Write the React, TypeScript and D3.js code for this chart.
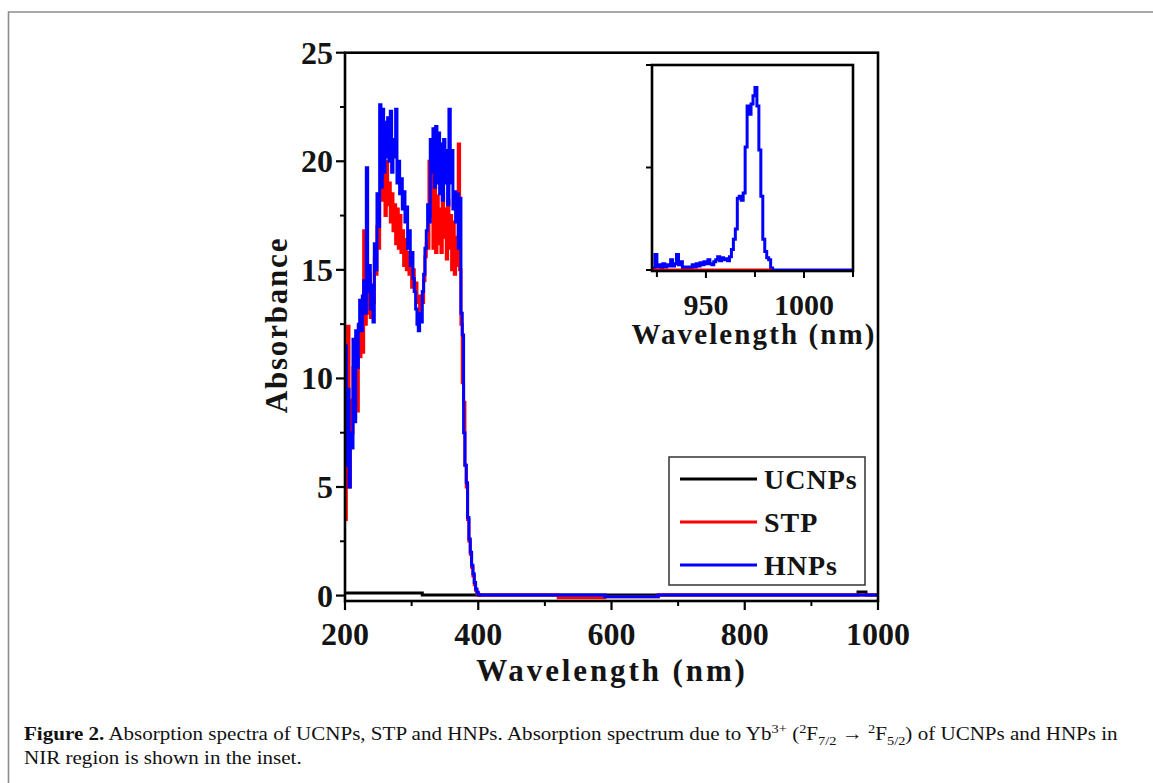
import React, { useLayoutEffect, useRef, useState } from "react";
import * as d3 from "d3";

// ---------- DATA ----------
const uvWavelengths = d3.range(200, 401, 2); // 200..400 nm, 2 nm step

const hnpsUV = [
  11.5, 6.0, 9.5, 5.0, 7.5, 6.8, 11.8, 8.0, 12.2, 10.5,
  12.5, 13.6, 12.2, 13.8, 14.5, 13.0, 19.7, 14.0, 15.2, 13.2,
  14.3, 12.6, 16.2, 15.0, 18.5, 17.0, 22.6, 18.8, 22.4, 19.5,
  21.8, 20.2, 22.0, 20.0, 22.3, 19.5, 21.0, 20.2, 22.4, 19.0,
  20.0, 18.5, 19.2, 17.8, 18.6, 17.2, 17.9, 16.0, 16.8, 15.2,
  15.8, 14.6, 14.0, 13.2, 12.5, 12.2, 13.0, 12.6, 14.0, 14.8,
  16.0, 16.8, 18.0, 17.2, 21.0, 19.5, 21.5, 18.8, 21.6, 19.0,
  21.3, 18.5, 20.8, 18.2, 21.0, 19.0, 20.5, 18.0, 22.4, 19.0,
  20.5, 17.8, 18.6, 17.2, 18.5, 16.0, 18.3, 13.0, 12.0, 7.5,
  6.0, 5.2, 3.6, 2.6, 2.0, 1.4, 1.0, 0.6, 0.3, 0.15,
  0.05,
];

const stpUV = [
  3.5, 6.3, 12.4, 5.0, 9.0, 7.5, 10.5, 8.2, 11.0, 8.5,
  12.4, 11.0, 12.2, 11.2, 16.8, 12.5, 14.5, 13.0, 14.8, 12.8,
  14.2, 13.5, 15.5, 14.8, 17.0, 16.0, 18.3, 19.8, 18.2, 19.5,
  17.5, 20.0, 18.0, 19.0, 17.2, 18.5, 16.8, 18.0, 16.2, 17.8,
  16.0, 17.5, 15.8, 16.8, 15.2, 16.4, 15.0, 15.8, 14.8, 15.5,
  14.2, 15.0, 14.0, 14.4, 13.5, 13.8, 13.0, 13.8, 13.5, 14.5,
  15.6, 16.2, 16.0, 20.0, 17.5, 19.5, 16.0, 18.8, 15.8, 18.4,
  16.2, 17.8, 15.8, 18.5, 16.5, 17.8, 15.5, 18.2, 16.0, 17.5,
  15.0, 17.2, 14.8, 16.5, 15.2, 20.8, 15.0, 12.5, 9.8, 8.9,
  6.0, 5.0, 3.5, 2.5, 1.9, 1.3, 0.9, 0.5, 0.25, 0.1,
  0.0,
];

// baseline tails beyond 400 nm: [wavelength, absorbance]
const hnpsTail: [number, number][] = [
  [402, 0.03], [590, 0.03], [590, -0.06], [670, -0.06], [670, 0.03], [1000, 0.03],
];
const stpTail: [number, number][] = [
  [402, 0.03], [520, 0.03], [520, -0.1], [590, -0.1], [590, -0.06], [670, -0.06], [670, 0.03], [1000, 0.03],
];
const ucnps: [number, number][] = [
  [200, 0.12], [315, 0.12], [316, 0.03], [968, 0.03], [970, 0.16], [980, 0.16], [982, 0.03], [1000, 0.03],
];

// inset (NIR) data
const insetHnps: [number, number][] = [
  [923, 0.02], [924, 0.15], [925, 0.03], [926, 0.05], [927, 0.02], [928, 0.06], [929, 0.03],
  [930, 0.05], [931, 0.04], [932, 0.1], [933, 0.04], [934, 0.06], [935, 0.15], [936, 0.05],
  [937, 0.08], [938, 0.02], [939, 0.03], [940, 0.01], [941, 0.03], [942, 0.02], [943, 0.05],
  [944, 0.03], [945, 0.06], [946, 0.04], [947, 0.07], [948, 0.05], [949, 0.08], [950, 0.06],
  [951, 0.1], [952, 0.06], [953, 0.05], [954, 0.08], [955, 0.1], [956, 0.13], [957, 0.09],
  [958, 0.12], [959, 0.1], [960, 0.11], [961, 0.09], [962, 0.13], [963, 0.2], [964, 0.3],
  [965, 0.4], [966, 0.7], [967, 0.72], [968, 0.68], [969, 0.75], [970, 1.2], [971, 1.6],
  [972, 1.52], [973, 1.62], [974, 1.7], [975, 1.78], [976, 1.6], [977, 1.17], [978, 0.72],
  [979, 0.3], [980, 0.18], [981, 0.12], [982, 0.1], [983, 0.02], [984, 0.0], [1025, 0.0],
];
const insetStp: [number, number][] = [
  [922.5, 0.0], [983.5, 0.0],
];

const mainXTicks = [200, 400, 600, 800, 1000];
const mainXMinor = [300, 500, 700, 900];
const mainYTicks = [0, 5, 10, 15, 20, 25];
const mainYMinor = [2.5, 7.5, 12.5, 17.5, 22.5];
const insetXTicks = [950, 1000];
const insetXMinor = [925, 975, 1025];
const insetYTicks = [0, 1, 2];

const legendItems = [
  { label: "UCNPs", color: "#000000" },
  { label: "STP", color: "#ff0000" },
  { label: "HNPs", color: "#0000ff" },
];

// ---------- COMPONENT ----------
const W = 1153;
const H = 783;
const FONT = "'Liberation Serif', 'Times New Roman', serif";
const TXT = "#141414";

export default function App() {
  const x = d3.scaleLinear().domain([200, 1000]).range([345, 878]);
  const y = d3.scaleLinear().domain([-0.25, 25]).range([601, 52.7]);
  const xi = d3.scaleLinear().domain([922.5, 1025]).range([652, 853]);
  const yi = d3.scaleLinear().domain([-0.01, 2]).range([271, 65]);

  const lineMain = d3
    .line<[number, number]>()
    .x((d) => x(d[0]))
    .y((d) => y(d[1]))
    .curve(d3.curveStepAfter);
  const lineInset = d3
    .line<[number, number]>()
    .x((d) => xi(d[0]))
    .y((d) => yi(d[1]))
    .curve(d3.curveStepAfter);

  const hnps: [number, number][] = uvWavelengths
    .map((w, i) => [w, hnpsUV[i]] as [number, number])
    .concat(hnpsTail);
  const stp: [number, number][] = uvWavelengths
    .map((w, i) => [w, stpUV[i]] as [number, number])
    .concat(stpTail);

  const [x0, x1] = x.range();
  const [yB, yT] = y.range();
  const [ix0, ix1] = xi.range();
  const [iyB, iyT] = yi.range();

  // caption fitting
  const cap1 = useRef<SVGTextElement>(null);
  const [capScale, setCapScale] = useState(1);
  useLayoutEffect(() => {
    if (cap1.current) {
      const w = cap1.current.getComputedTextLength();
      if (w > 0) setCapScale(1094 / w);
    }
  }, []);

  return (
    <svg
      width={W}
      height={H}
      style={{ position: "absolute", left: 0, top: 0, background: "#fff" }}
      fontFamily={FONT}
    >
      <defs>
        <clipPath id="mainClip">
          <rect x={x0} y={yT - 2} width={x1 - x0} height={yB - yT + 2} />
        </clipPath>
        <clipPath id="insetClip">
          <rect x={ix0} y={iyT} width={ix1 - ix0} height={iyB - iyT} />
        </clipPath>
      </defs>

      {/* figure border */}
      <path d={`M8.5,${H} L8.5,12 L${W},12`} fill="none" stroke="#8c8c8c" strokeWidth={1.6} />

      {/* main plot lines */}
      <g clipPath="url(#mainClip)" fill="none" strokeWidth={3} strokeLinejoin="miter">
        <path d={lineMain(ucnps) || ""} stroke="#000" />
        <path d={lineMain(stp) || ""} stroke="#ff0000" />
        <path d={lineMain(hnps) || ""} stroke="#0000ff" />
      </g>

      {/* main frame */}
      <rect x={x0} y={yT} width={x1 - x0} height={yB - yT} fill="none" stroke="#000" strokeWidth={2.6} />

      {/* y ticks */}
      {mainYTicks.map((t) => (
        <g key={"yt" + t}>
          <line x1={x0 - 9} x2={x0} y1={y(t)} y2={y(t)} stroke="#000" strokeWidth={2.2} />
          <text
            x={333}
            y={y(t) + 11}
            textAnchor="end"
            fontSize={32}
            fontWeight="bold"
            fill={TXT}
          >
            {t}
          </text>
        </g>
      ))}
      {mainYMinor.map((t) => (
        <line key={"ym" + t} x1={x0 - 5} x2={x0} y1={y(t)} y2={y(t)} stroke="#000" strokeWidth={2} />
      ))}

      {/* x ticks */}
      {mainXTicks.map((t) => (
        <g key={"xt" + t}>
          <line x1={x(t)} x2={x(t)} y1={yB} y2={yB + 9} stroke="#000" strokeWidth={2.2} />
          <text x={x(t)} y={645} textAnchor="middle" fontSize={32} fontWeight="bold" fill={TXT}>
            {t}
          </text>
        </g>
      ))}
      {mainXMinor.map((t) => (
        <line key={"xm" + t} x1={x(t)} x2={x(t)} y1={yB} y2={yB + 5} stroke="#000" strokeWidth={2} />
      ))}

      {/* axis titles */}
      <text
        x={612}
        y={681}
        textAnchor="middle"
        fontSize={31}
        fontWeight="bold"
        letterSpacing={2.9}
        fill={TXT}
      >
        Wavelength (nm)
      </text>
      <text
        transform={`translate(287,325) rotate(-90)`}
        textAnchor="middle"
        fontSize={31}
        fontWeight="bold"
        letterSpacing={1.8}
        fill={TXT}
      >
        Absorbance
      </text>

      {/* legend */}
      <rect x={669} y={457} width={196} height={128} fill="#fff" stroke="#333" strokeWidth={1.5} />
      {legendItems.map((it, i) => {
        const ly = 479 + i * 43;
        return (
          <g key={it.label}>
            <line x1={680} x2={757} y1={ly} y2={ly} stroke={it.color} strokeWidth={3} />
            <text x={764} y={ly + 10} fontSize={28} fontWeight="bold" letterSpacing={1} fill={TXT}>
              {it.label}
            </text>
          </g>
        );
      })}

      {/* inset */}
      <rect x={ix0} y={iyT} width={ix1 - ix0} height={iyB - iyT} fill="#fff" />
      <g clipPath="url(#insetClip)" fill="none" strokeWidth={3}>
        <path d={lineInset(insetHnps) || ""} stroke="#0000ff" />
        <path d={lineInset(insetStp) || ""} stroke="#ff0000" />
      </g>
      <rect x={ix0} y={iyT} width={ix1 - ix0} height={iyB - iyT} fill="none" stroke="#000" strokeWidth={2.6} />
      {insetYTicks.map((t) => (
        <line key={"iyt" + t} x1={ix0 - 6} x2={ix0} y1={yi(t)} y2={yi(t)} stroke="#000" strokeWidth={2} />
      ))}
      {insetXTicks.map((t) => (
        <g key={"ixt" + t}>
          <line x1={xi(t)} x2={xi(t)} y1={iyB} y2={iyB + 7} stroke="#000" strokeWidth={2} />
          <text x={xi(t)} y={315} textAnchor="middle" fontSize={30} fontWeight="bold" fill={TXT}>
            {t}
          </text>
        </g>
      ))}
      {insetXMinor.map((t) => (
        <line key={"ixm" + t} x1={xi(t)} x2={xi(t)} y1={iyB} y2={iyB + 6} stroke="#000" strokeWidth={2} />
      ))}
      <text
        x={754}
        y={344}
        textAnchor="middle"
        fontSize={29}
        fontWeight="bold"
        letterSpacing={2.1}
        fill={TXT}
      >
        Wavelength (nm)
      </text>

      {/* caption */}
      <g transform={`translate(24,0) scale(${capScale},1)`} fontSize={19} fill="#111">
        <text ref={cap1} x={0} y={740}>
          <tspan fontWeight="bold">Figure 2.</tspan>
          <tspan> Absorption spectra of UCNPs, STP and HNPs. Absorption spectrum due to Yb</tspan>
          <tspan dy={-7} fontSize={13}>3+</tspan>
          <tspan dy={7}> (</tspan>
          <tspan dy={-7} fontSize={13}>2</tspan>
          <tspan dy={7}>F</tspan>
          <tspan dy={5} fontSize={13}>7/2</tspan>
          <tspan dy={-5}> → </tspan>
          <tspan dy={-7} fontSize={13}>2</tspan>
          <tspan dy={7}>F</tspan>
          <tspan dy={5} fontSize={13}>5/2</tspan>
          <tspan dy={-5}>) of UCNPs and HNPs in</tspan>
        </text>
        <text x={0} y={764}>
          NIR region is shown in the inset.
        </text>
      </g>
    </svg>
  );
}
